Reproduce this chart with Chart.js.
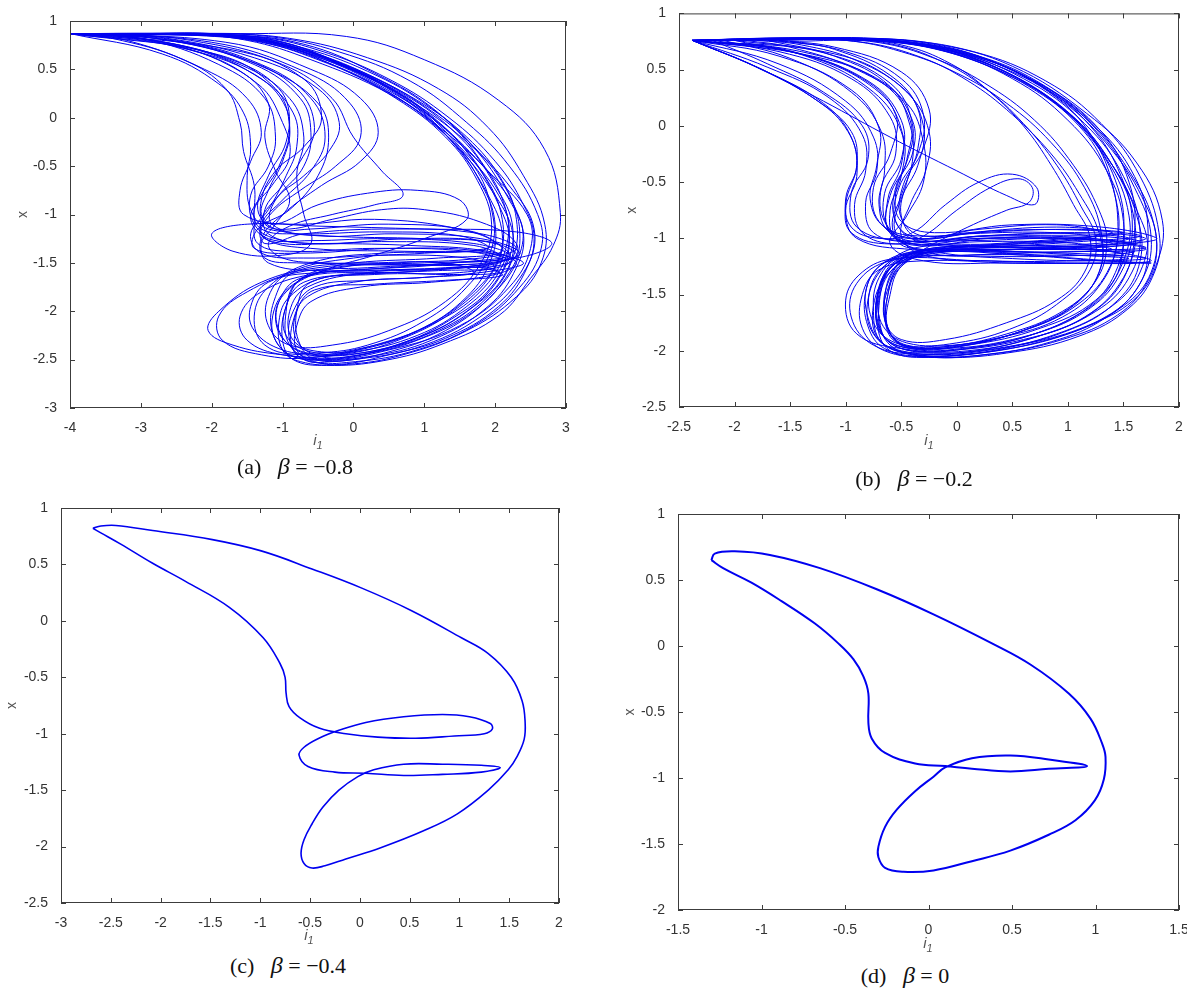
<!DOCTYPE html>
<html>
<head>
<meta charset="utf-8">
<script src="https://cdn.jsdelivr.net/npm/chart.js@4.4.1/dist/chart.umd.min.js"></script>
<style>
html, body { margin: 0; padding: 0; background: #fff; overflow: hidden; }
#page { position: relative; width: 1187px; height: 990px; }
canvas { position: absolute; }
.cap { position: absolute; font-family: 'Liberation Serif', 'Times New Roman', serif; font-size: 22px; color: #111; white-space: nowrap; transform: translate(-50%, -50%); }
.cap i { font-size: 24px; }
.ax { position: absolute; font-family: 'Liberation Sans', Arial, sans-serif; font-style: italic; font-size: 15px; color: #555; transform: translate(-50%, -50%); line-height: 1; }
.ax sub { font-size: 11px; }
</style>
</head>
<body>
<div id="page">
  <canvas id="chartA" width="570" height="446" style="left:11px;top:6px"></canvas>
  <canvas id="chartB" width="574" height="452" style="left:620px;top:0px"></canvas>
  <canvas id="chartC" width="574" height="454" style="left:0px;top:493px"></canvas>
  <canvas id="chartD" width="576" height="458" style="left:618px;top:499px"></canvas>
  <div class="ax" style="left:318px;top:441px">i<sub>1</sub></div>
  <div class="ax" style="left:929px;top:441px">i<sub>1</sub></div>
  <div class="ax" style="left:309px;top:936px">i<sub>1</sub></div>
  <div class="ax" style="left:928px;top:944px">i<sub>1</sub></div>
  <div class="cap" style="left:295px;top:466px">(a)&nbsp;&nbsp;&nbsp;<i>β</i>&nbsp;=&nbsp;−0.8</div>
  <div class="cap" style="left:914px;top:478px">(b)&nbsp;&nbsp;&nbsp;<i>β</i>&nbsp;=&nbsp;−0.2</div>
  <div class="cap" style="left:288px;top:965px">(c)&nbsp;&nbsp;&nbsp;<i>β</i>&nbsp;=&nbsp;−0.4</div>
  <div class="cap" style="left:905px;top:975px">(d)&nbsp;&nbsp;&nbsp;<i>β</i>&nbsp;=&nbsp;0</div>
</div>
<script>
// tick values of each panel
const xTicksA = [-4, -3, -2, -1, 0, 1, 2, 3];
const yTicksA = [-3, -2.5, -2, -1.5, -1, -0.5, 0, 0.5, 1];
const xTicksB = [-2.5, -2, -1.5, -1, -0.5, 0, 0.5, 1, 1.5, 2];
const yTicksB = [-2.5, -2, -1.5, -1, -0.5, 0, 0.5, 1];
const xTicksC = [-3, -2.5, -2, -1.5, -1, -0.5, 0, 0.5, 1, 1.5, 2];
const yTicksC = [-2.5, -2, -1.5, -1, -0.5, 0, 0.5, 1];
const xTicksD = [-1.5, -1, -0.5, 0, 0.5, 1, 1.5];
const yTicksD = [-2, -1.5, -1, -0.5, 0, 0.5, 1];

// (a) beta = -0.8, loops of the chaotic orbit [i1, x]
const loopsA = [
  [[-4,0.87],[-3,0.87],[-1.6,0.87],[-0.1,0.84],[1.0,0.6],[2.05,0.18],[2.7,-0.33],[2.92,-0.98],[2.82,-1.32],[2.5,-1.66],[2.06,-2.04],[1.25,-2.34],[0.43,-2.51],[-0.38,-2.56],[-0.85,-2.5],[-1.0,-2.3],[-0.95,-1.95],[-0.7,-1.65],[0.2,-1.58],[1.4,-1.55],[2.2,-1.45],[2.0,-1.3],[1.0,-1.25],[-0.4,-1.22],[-1.1,-1.15],[-1.35,-0.95],[-1.2,-0.6],[-0.95,-0.25],[-0.95,0.1],[-1.4,0.45],[-2.4,0.72],[-3.4,0.84],[-4,0.87]],
  [[-4,0.87],[-2.8,0.86],[-1.8,0.84],[-0.9,0.72],[0.0,0.5],[0.9,0.18],[1.6,-0.2],[2.1,-0.65],[2.3,-1.05],[2.25,-1.45],[1.9,-1.85],[1.2,-2.2],[0.3,-2.42],[-0.4,-2.5],[-0.9,-2.45],[-1.15,-2.2],[-1.1,-1.85],[-0.85,-1.6],[0.0,-1.5],[1.2,-1.45],[2.1,-1.38],[1.7,-1.18],[0.5,-1.1],[-0.6,-1.15],[-1.2,-1.15],[-1.45,-0.95],[-1.5,-0.6],[-1.45,-0.3],[-1.55,0.05],[-1.9,0.35],[-2.7,0.66],[-4,0.87]],
  [[-3.8,0.87],[-3,0.87],[-2,0.87],[-1.2,0.8],[-0.3,0.6],[0.7,0.25],[1.5,-0.2],[2.0,-0.7],[2.25,-1.15],[2.1,-1.6],[1.6,-2.0],[0.8,-2.3],[-0.2,-2.48],[-1.0,-2.45],[-1.7,-2.35],[-2.05,-2.2],[-1.9,-2.0],[-1.3,-1.7],[-0.5,-1.55],[0.6,-1.5],[1.8,-1.45],[2.3,-1.35],[1.8,-1.2],[0.6,-1.15],[-0.7,-1.2],[-1.25,-1.3],[-1.3,-1.1],[-1.0,-0.85],[-0.6,-0.55],[-0.4,-0.2],[-0.6,0.2],[-1.3,0.55],[-2.5,0.8],[-3.8,0.87]],
  [[-4,0.87],[-2.5,0.86],[-1.5,0.82],[-0.6,0.65],[0.4,0.35],[1.2,-0.05],[1.9,-0.55],[2.45,-1.0],[2.5,-1.35],[2.2,-1.75],[1.5,-2.15],[0.5,-2.4],[-0.5,-2.5],[-0.75,-2.35],[-0.8,-2.0],[-0.6,-1.7],[0.3,-1.62],[1.5,-1.6],[2.2,-1.5],[1.8,-1.38],[0.6,-1.35],[-0.8,-1.4],[-1.4,-1.35],[-1.35,-1.15],[-0.9,-0.95],[-0.5,-0.6],[-0.35,-0.2],[-0.5,0.15],[-1.2,0.5],[-2.4,0.78],[-4,0.87]],
  [[-4,0.87],[-3.2,0.86],[-2.2,0.85],[-1.3,0.78],[-0.4,0.58],[0.6,0.22],[1.4,-0.25],[1.85,-0.75],[2.0,-1.1],[1.95,-1.45],[1.6,-1.85],[0.9,-2.2],[0.0,-2.4],[-0.7,-2.45],[-1.25,-2.35],[-1.4,-2.05],[-1.2,-1.75],[-0.6,-1.5],[0.4,-1.4],[1.6,-1.38],[2.0,-1.3],[1.5,-1.15],[0.3,-1.05],[-0.9,-1.1],[-1.55,-1.0],[-1.6,-0.75],[-1.45,-0.45],[-1.3,-0.15],[-1.5,0.2],[-2.1,0.5],[-3.2,0.8],[-4,0.87]],
  [[-4,0.87],[-2.6,0.87],[-1.7,0.85],[-0.8,0.74],[0.2,0.48],[1.1,0.1],[1.75,-0.35],[2.2,-0.85],[2.4,-1.2],[2.3,-1.55],[1.9,-1.95],[1.1,-2.3],[0.2,-2.47],[-0.6,-2.5],[-1.0,-2.4],[-1.15,-2.1],[-0.9,-1.75],[-0.2,-1.55],[1.0,-1.5],[2.3,-1.45],[2.8,-1.3],[2.3,-1.18],[1.0,-1.15],[-0.5,-1.12],[-1.5,-1.1],[-2.0,-1.2],[-1.7,-1.38],[-1.0,-1.42],[-0.6,-1.3],[-0.7,-1.0],[-0.8,-0.6],[-0.7,-0.2],[-0.9,0.2],[-1.6,0.55],[-2.8,0.8],[-4,0.87]],
  [[-3.9,0.87],[-3,0.86],[-1.9,0.86],[-1.0,0.78],[0.0,0.5],[0.85,0.15],[1.5,-0.3],[2.05,-0.8],[2.2,-1.2],[2.05,-1.6],[1.6,-1.95],[0.9,-2.25],[0.0,-2.42],[-0.6,-2.42],[-0.95,-2.25],[-0.95,-1.95],[-0.7,-1.7],[0.1,-1.62],[1.2,-1.58],[2.0,-1.55],[1.6,-1.45],[0.5,-1.42],[-0.7,-1.45],[-1.3,-1.4],[-1.45,-1.2],[-1.2,-0.95],[-0.95,-0.6],[-0.8,-0.3],[-0.85,0.05],[-1.3,0.4],[-2.2,0.7],[-3.4,0.85],[-3.9,0.87]],
  [[-4,0.87],[-2.9,0.87],[-1.8,0.86],[-0.7,0.76],[0.3,0.46],[1.2,0.05],[1.8,-0.45],[2.15,-0.95],[2.15,-1.35],[1.85,-1.75],[1.2,-2.1],[0.3,-2.35],[-0.6,-2.48],[-1.3,-2.45],[-1.85,-2.3],[-1.9,-2.05],[-1.5,-1.8],[-0.8,-1.6],[0.2,-1.55],[1.4,-1.5],[2.1,-1.45],[1.7,-1.32],[0.4,-1.28],[-0.6,-1.3],[-1.2,-1.2],[-1.25,-0.95],[-1.0,-0.7],[-0.75,-0.45],[-0.55,-0.1],[-0.8,0.3],[-1.6,0.62],[-3.0,0.84],[-4,0.87]],
  [[-4,0.87],[-3.5,0.87],[-2.4,0.86],[-1.5,0.8],[-0.6,0.6],[0.5,0.25],[1.3,-0.15],[1.95,-0.6],[2.35,-1.05],[2.35,-1.4],[2.0,-1.8],[1.3,-2.2],[0.4,-2.44],[-0.3,-2.52],[-0.7,-2.5],[-0.9,-2.3],[-0.85,-2.0],[-0.55,-1.75],[0.2,-1.68],[1.0,-1.65],[1.7,-1.6],[1.3,-1.5],[0.2,-1.5],[-0.8,-1.5],[-1.25,-1.45],[-1.3,-1.25],[-1.0,-1.0],[-0.45,-0.7],[0.1,-0.45],[0.35,-0.15],[0.1,0.2],[-0.6,0.5],[-1.8,0.78],[-4,0.87]],
  [[-4,0.87],[-3.1,0.86],[-2.1,0.86],[-1.1,0.8],[-0.2,0.56],[0.75,0.2],[1.6,-0.25],[2.25,-0.75],[2.55,-1.15],[2.45,-1.55],[2.05,-1.95],[1.3,-2.28],[0.5,-2.45],[-0.2,-2.55],[-0.75,-2.52],[-1.0,-2.4],[-1.05,-2.1],[-0.9,-1.85],[-0.4,-1.65],[0.6,-1.6],[1.8,-1.52],[2.3,-1.42],[1.9,-1.28],[0.8,-1.25],[-0.4,-1.3],[-1.1,-1.25],[-1.4,-1.1],[-1.45,-0.8],[-1.2,-0.5],[-1.1,-0.2],[-1.25,0.2],[-1.9,0.55],[-3.0,0.82],[-4,0.87]],
  [[-3.7,0.87],[-2.7,0.86],[-1.4,0.84],[-0.5,0.7],[0.5,0.4],[1.35,0.0],[2.0,-0.45],[2.4,-0.9],[2.55,-1.25],[2.4,-1.6],[1.9,-2.0],[1.0,-2.35],[0.0,-2.5],[-0.55,-2.5],[-0.9,-2.35],[-0.95,-2.0],[-0.8,-1.7],[-0.3,-1.55],[0.8,-1.52],[1.9,-1.5],[2.35,-1.4],[1.8,-1.25],[0.6,-1.2],[-0.5,-1.22],[-1.15,-1.1],[-1.1,-0.85],[-0.7,-0.6],[-0.35,-0.35],[-0.2,-0.05],[-0.5,0.3],[-1.4,0.62],[-2.8,0.84],[-3.7,0.87]],
  [[-4,0.87],[-3.3,0.87],[-2.3,0.86],[-1.4,0.8],[-0.5,0.6],[0.4,0.3],[1.1,-0.05],[1.7,-0.5],[1.95,-0.95],[1.95,-1.35],[1.6,-1.75],[1.0,-2.1],[0.2,-2.35],[-0.5,-2.43],[-1.0,-2.4],[-1.4,-2.2],[-1.45,-1.95],[-1.2,-1.7],[-0.5,-1.6],[0.6,-1.58],[1.6,-1.55],[2.1,-1.48],[1.6,-1.38],[0.3,-1.35],[-0.9,-1.38],[-1.35,-1.3],[-1.4,-1.05],[-1.4,-0.7],[-1.55,-0.35],[-1.6,-0.05],[-1.8,0.3],[-2.4,0.6],[-3.4,0.82],[-4,0.87]],
  [[-4,0.87],[-2.4,0.87],[-1.2,0.84],[-0.2,0.68],[0.8,0.38],[1.6,-0.05],[2.2,-0.5],[2.6,-1.0],[2.65,-1.35],[2.35,-1.75],[1.7,-2.15],[0.8,-2.42],[-0.1,-2.53],[-0.6,-2.52],[-0.85,-2.4],[-0.85,-2.1],[-0.65,-1.85],[0.0,-1.7],[1.0,-1.65],[2.0,-1.58],[2.4,-1.5],[1.9,-1.4],[0.7,-1.38],[-0.6,-1.35],[-1.25,-1.25],[-1.3,-1.05],[-1.05,-0.8],[-0.7,-0.5],[-0.6,-0.15],[-0.75,0.2],[-1.4,0.55],[-2.6,0.8],[-4,0.87]],
  [[-4,0.87],[-3.0,0.87],[-2.0,0.86],[-1.2,0.79],[-0.3,0.55],[0.6,0.2],[1.3,-0.2],[1.75,-0.65],[1.95,-1.1],[1.8,-1.5],[1.3,-1.9],[0.5,-2.2],[-0.3,-2.35],[-0.9,-2.35],[-1.2,-2.15],[-1.2,-1.85],[-0.9,-1.6],[0.0,-1.45],[1.0,-1.4],[1.9,-1.35],[1.5,-1.22],[0.4,-1.18],[-0.8,-1.2],[-1.3,-1.15],[-1.4,-0.95],[-1.15,-0.7],[-0.9,-0.4],[-1.0,-0.05],[-1.35,0.35],[-2.3,0.7],[-4,0.87]],
  [[-4,0.87],[-2.9,0.86],[-1.9,0.85],[-1.0,0.76],[-0.1,0.52],[0.8,0.16],[1.45,-0.3],[1.9,-0.8],[2.1,-1.2],[2.0,-1.55],[1.5,-1.95],[0.7,-2.28],[-0.2,-2.45],[-0.75,-2.42],[-1.05,-2.2],[-1.05,-1.9],[-0.75,-1.66],[0.3,-1.6],[1.3,-1.62],[2.05,-1.6],[1.7,-1.52],[0.6,-1.55],[-0.5,-1.58],[-1.2,-1.5],[-1.3,-1.3],[-1.1,-1.1],[-0.9,-0.85],[-1.1,-0.55],[-1.25,-0.2],[-1.2,0.15],[-1.6,0.48],[-2.7,0.78],[-4,0.87]],
  [[-4,0.87],[-3.2,0.87],[-2.0,0.87],[-0.9,0.82],[0.2,0.62],[1.2,0.3],[1.9,-0.1],[2.4,-0.6],[2.7,-1.1],[2.65,-1.5],[2.3,-1.85],[1.6,-2.2],[0.7,-2.45],[-0.1,-2.55],[-0.55,-2.52],[-0.8,-2.4],[-0.8,-2.15],[-0.6,-1.9],[0.1,-1.75],[1.1,-1.7],[2.0,-1.62],[2.3,-1.5],[1.9,-1.38],[0.8,-1.32],[-0.3,-1.3],[-1.0,-1.3],[-1.3,-1.2],[-1.15,-0.98],[-0.75,-0.75],[-0.25,-0.5],[0.1,-0.2],[-0.05,0.15],[-0.7,0.48],[-2.0,0.78],[-4,0.87]],
  [[-4,0.87],[-2.7,0.86],[-1.6,0.83],[-0.6,0.67],[0.3,0.4],[1.05,0.05],[1.65,-0.4],[2.05,-0.9],[2.2,-1.3],[2.0,-1.7],[1.45,-2.05],[0.6,-2.35],[-0.3,-2.46],[-1.0,-2.45],[-1.5,-2.3],[-1.6,-2.05],[-1.3,-1.8],[-0.6,-1.62],[0.5,-1.55],[1.7,-1.48],[2.2,-1.42],[1.7,-1.3],[0.5,-1.25],[-0.6,-1.27],[-1.2,-1.25],[-1.45,-1.05],[-1.3,-0.8],[-1.05,-0.5],[-0.9,-0.1],[-1.05,0.3],[-1.8,0.62],[-3.2,0.84],[-4,0.87]],
  [[-3.6,0.87],[-2.6,0.86],[-1.5,0.82],[-0.7,0.7],[0.2,0.45],[1.0,0.12],[1.7,-0.3],[2.2,-0.8],[2.35,-1.25],[2.2,-1.6],[1.7,-2.0],[0.9,-2.3],[0.1,-2.45],[-0.45,-2.47],[-0.8,-2.3],[-0.8,-2.0],[-0.55,-1.78],[0.3,-1.72],[1.3,-1.68],[2.1,-1.63],[1.8,-1.55],[0.7,-1.52],[-0.4,-1.5],[-1.0,-1.45],[-1.2,-1.3],[-0.9,-1.12],[-0.3,-1.0],[0.3,-0.9],[0.7,-0.8],[0.4,-0.55],[0.0,-0.2],[-0.3,0.2],[-1.0,0.55],[-2.3,0.8],[-3.6,0.87]],
  [[-4,0.87],[-3.0,0.86],[-2.0,0.85],[-1.1,0.78],[-0.2,0.55],[0.7,0.2],[1.4,-0.25],[1.95,-0.75],[2.25,-1.2],[2.15,-1.6],[1.7,-1.95],[1.0,-2.25],[0.2,-2.42],[-0.5,-2.45],[-0.95,-2.32],[-1.1,-2.05],[-0.95,-1.8],[-0.5,-1.6],[0.3,-1.42],[1.0,-1.25],[1.6,-1.05],[1.5,-0.85],[0.9,-0.75],[0.2,-0.78],[-0.5,-0.9],[-1.1,-1.1],[-1.3,-1.0],[-1.2,-0.75],[-1.0,-0.45],[-0.9,-0.1],[-1.1,0.3],[-1.9,0.65],[-4,0.87]],
  [[-4,0.87],[-3.3,0.86],[-2.2,0.86],[-1.3,0.8],[-0.4,0.6],[0.5,0.28],[1.3,-0.12],[1.85,-0.6],[2.1,-1.05],[2.05,-1.45],[1.7,-1.8],[1.05,-2.15],[0.2,-2.38],[-0.45,-2.42],[-0.85,-2.3],[-0.9,-2.0],[-0.65,-1.75],[0.2,-1.6],[1.3,-1.55],[2.2,-1.5],[2.3,-1.3],[1.8,-1.08],[1.0,-0.95],[0.4,-0.95],[-0.3,-1.05],[-0.9,-1.15],[-1.25,-1.1],[-1.3,-0.85],[-1.1,-0.55],[-0.7,-0.3],[-0.45,0.0],[-0.7,0.4],[-1.7,0.7],[-4,0.87]]
];

// (b) beta = -0.2
const loopsB = [
  [[-2.38,0.76],[-1.6,0.78],[-0.9,0.78],[-0.2,0.73],[0.5,0.53],[1.17,0.11],[1.62,-0.33],[1.85,-0.84],[1.79,-1.25],[1.59,-1.55],[1.17,-1.78],[0.66,-1.93],[0.0,-2.04],[-0.4,-2.03],[-0.7,-1.9],[-0.75,-1.6],[-0.6,-1.3],[-0.3,-1.15],[0.5,-1.1],[1.4,-1.05],[1.7,-1.0],[1.2,-0.95],[0.2,-0.98],[-0.6,-1.05],[-0.95,-0.95],[-1.0,-0.7],[-0.9,-0.35],[-0.95,-0.05],[-1.25,0.22],[-1.75,0.5],[-2.38,0.76]],
  [[-2.38,0.76],[-1.7,0.77],[-0.9,0.77],[-0.3,0.72],[0.35,0.52],[0.95,0.15],[1.35,-0.3],[1.55,-0.8],[1.5,-1.2],[1.25,-1.55],[0.75,-1.8],[0.1,-1.95],[-0.4,-1.97],[-0.6,-1.85],[-0.65,-1.55],[-0.55,-1.25],[-0.3,-1.1],[0.4,-1.07],[1.2,-1.05],[1.55,-1.0],[1.1,-0.96],[0.2,-0.98],[-0.35,-1.02],[-0.55,-0.85],[-0.55,-0.55],[-0.4,-0.25],[-0.4,0.05],[-0.65,0.38],[-1.3,0.62],[-2.38,0.76]],
  [[-2.2,0.76],[-1.5,0.77],[-0.7,0.76],[0.0,0.66],[0.7,0.4],[1.25,0.0],[1.6,-0.45],[1.72,-0.9],[1.65,-1.3],[1.4,-1.6],[0.9,-1.85],[0.25,-2.0],[-0.35,-2.03],[-0.75,-1.95],[-0.95,-1.7],[-0.9,-1.4],[-0.6,-1.2],[0.1,-1.15],[1.0,-1.12],[1.7,-1.1],[1.3,-1.02],[0.3,-1.0],[-0.5,-1.02],[-0.9,-0.9],[-0.95,-0.6],[-0.8,-0.3],[-0.85,0.0],[-1.2,0.3],[-1.7,0.55],[-2.2,0.76]],
  [[-1.9,0.76],[-1.2,0.77],[-0.5,0.75],[0.2,0.62],[0.8,0.35],[1.3,-0.05],[1.55,-0.5],[1.6,-0.95],[1.5,-1.35],[1.15,-1.7],[0.6,-1.9],[-0.1,-2.0],[-0.5,-1.98],[-0.7,-1.8],[-0.7,-1.45],[-0.55,-1.2],[-0.2,-1.12],[0.6,-1.15],[1.3,-1.2],[1.75,-1.22],[1.3,-1.22],[0.4,-1.22],[-0.3,-1.2],[-0.6,-1.05],[-0.45,-0.8],[-0.3,-0.5],[-0.3,-0.15],[-0.45,0.2],[-0.9,0.5],[-1.5,0.7],[-1.9,0.76]],
  [[-2.38,0.76],[-1.6,0.77],[-0.8,0.76],[-0.1,0.68],[0.6,0.42],[1.15,0.02],[1.5,-0.45],[1.65,-0.95],[1.55,-1.35],[1.25,-1.65],[0.7,-1.88],[0.0,-2.02],[-0.5,-2.0],[-0.75,-1.85],[-0.8,-1.55],[-0.65,-1.25],[-0.35,-1.08],[0.3,-1.05],[1.0,-1.0],[1.5,-0.95],[1.0,-0.92],[0.2,-0.95],[-0.4,-1.0],[-0.7,-0.85],[-0.75,-0.55],[-0.6,-0.25],[-0.55,0.1],[-0.85,0.42],[-1.5,0.66],[-2.38,0.76]],
  [[-1.5,0.75],[-0.9,0.76],[-0.3,0.72],[0.3,0.56],[0.9,0.25],[1.25,-0.15],[1.42,-0.6],[1.45,-1.0],[1.3,-1.4],[0.95,-1.7],[0.4,-1.88],[-0.2,-1.96],[-0.55,-1.92],[-0.65,-1.7],[-0.62,-1.4],[-0.45,-1.18],[0.0,-1.1],[0.8,-1.08],[1.4,-1.05],[1.0,-1.0],[0.1,-1.02],[-0.35,-1.0],[-0.5,-0.8],[-0.45,-0.5],[-0.35,-0.2],[-0.35,0.15],[-0.6,0.45],[-1.1,0.68],[-1.5,0.75]],
  [[-2.38,0.76],[-1.6,0.78],[-0.9,0.77],[-0.25,0.7],[0.4,0.48],[1.0,0.12],[1.4,-0.35],[1.6,-0.85],[1.55,-1.25],[1.3,-1.6],[0.8,-1.85],[0.1,-2.0],[-0.5,-1.98],[-0.9,-1.85],[-1.0,-1.55],[-0.85,-1.3],[-0.55,-1.18],[0.2,-1.2],[1.0,-1.22],[1.6,-1.22],[1.1,-1.18],[0.3,-1.12],[-0.4,-1.1],[-0.9,-1.0],[-1.0,-0.75],[-0.9,-0.45],[-0.95,-0.1],[-1.2,0.2],[-1.75,0.5],[-2.38,0.76]],
  [[-2.0,0.76],[-1.3,0.77],[-0.6,0.76],[0.1,0.64],[0.75,0.36],[1.2,0.0],[1.48,-0.45],[1.58,-0.9],[1.48,-1.3],[1.2,-1.62],[0.7,-1.85],[0.05,-1.98],[-0.45,-1.97],[-0.62,-1.8],[-0.6,-1.5],[-0.5,-1.25],[-0.25,-1.12],[0.5,-1.1],[1.3,-1.08],[1.65,-1.03],[1.2,-0.98],[0.3,-1.0],[-0.3,-1.06],[-0.6,-0.95],[-0.62,-0.65],[-0.5,-0.35],[-0.5,-0.05],[-0.75,0.3],[-1.3,0.6],[-2.0,0.76]],
  [[-2.38,0.76],[-1.75,0.5],[-1.2,0.22],[-0.6,-0.1],[0.0,-0.4],[0.45,-0.62],[0.7,-0.7],[0.72,-0.55],[0.5,-0.43],[0.2,-0.5],[-0.1,-0.7],[-0.4,-0.95],[-0.7,-1.0],[-0.95,-0.9],[-1.0,-0.65],[-0.9,-0.35],[-0.98,-0.05],[-1.25,0.22],[-1.8,0.52],[-2.38,0.76]],
  [[-1.7,0.76],[-1.0,0.77],[-0.4,0.74],[0.25,0.6],[0.85,0.3],[1.3,-0.08],[1.6,-0.55],[1.75,-1.0],[1.65,-1.4],[1.35,-1.7],[0.85,-1.92],[0.2,-2.04],[-0.3,-2.05],[-0.6,-1.95],[-0.7,-1.7],[-0.68,-1.4],[-0.5,-1.2],[0.1,-1.15],[0.9,-1.15],[1.5,-1.15],[1.1,-1.08],[0.2,-1.07],[-0.45,-1.08],[-0.58,-0.9],[-0.5,-0.62],[-0.4,-0.32],[-0.42,0.0],[-0.6,0.35],[-1.1,0.62],[-1.7,0.76]],
  [[-2.38,0.76],[-1.7,0.77],[-1.0,0.77],[-0.4,0.73],[0.2,0.58],[0.75,0.3],[1.2,-0.1],[1.45,-0.55],[1.5,-1.0],[1.4,-1.4],[1.05,-1.7],[0.5,-1.9],[-0.15,-1.98],[-0.55,-1.93],[-0.75,-1.75],[-0.78,-1.45],[-0.62,-1.22],[-0.3,-1.1],[0.4,-1.05],[1.1,-1.0],[1.4,-0.95],[0.9,-0.9],[0.1,-0.95],[-0.45,-1.0],[-0.65,-0.85],[-0.68,-0.55],[-0.55,-0.25],[-0.6,0.08],[-0.95,0.42],[-1.6,0.66],[-2.38,0.76]],
  [[-2.1,0.76],[-1.4,0.77],[-0.7,0.77],[-0.05,0.68],[0.6,0.45],[1.15,0.08],[1.55,-0.4],[1.78,-0.9],[1.75,-1.3],[1.5,-1.6],[1.0,-1.85],[0.35,-2.0],[-0.25,-2.05],[-0.65,-2.0],[-0.85,-1.8],[-0.85,-1.5],[-0.7,-1.28],[-0.3,-1.2],[0.5,-1.22],[1.3,-1.22],[1.75,-1.2],[1.4,-1.12],[0.6,-1.08],[-0.2,-1.05],[-0.6,-0.95],[-0.7,-0.7],[-0.65,-0.4],[-0.68,-0.05],[-0.95,0.3],[-1.5,0.6],[-2.1,0.76]],
  [[-2.38,0.76],[-1.5,0.78],[-0.6,0.77],[0.15,0.66],[0.8,0.4],[1.3,0.02],[1.65,-0.45],[1.82,-0.95],[1.78,-1.3],[1.55,-1.62],[1.1,-1.87],[0.45,-2.02],[-0.2,-2.06],[-0.6,-2.0],[-0.72,-1.75],[-0.7,-1.45],[-0.55,-1.22],[-0.2,-1.1],[0.6,-1.08],[1.5,-1.05],[1.8,-1.0],[1.3,-0.9],[0.5,-0.88],[-0.2,-0.95],[-0.5,-0.85],[-0.55,-0.6],[-0.45,-0.3],[-0.42,0.05],[-0.7,0.4],[-1.4,0.66],[-2.38,0.76]],
  [[-1.8,0.76],[-1.1,0.77],[-0.5,0.74],[0.1,0.6],[0.65,0.35],[1.1,0.0],[1.35,-0.4],[1.45,-0.85],[1.38,-1.25],[1.1,-1.58],[0.6,-1.82],[0.0,-1.95],[-0.45,-1.95],[-0.62,-1.8],[-0.62,-1.5],[-0.52,-1.25],[-0.2,-1.12],[0.5,-1.12],[1.1,-1.15],[1.55,-1.18],[1.1,-1.2],[0.3,-1.2],[-0.3,-1.15],[-0.5,-0.98],[-0.42,-0.7],[-0.28,-0.4],[-0.25,-0.05],[-0.45,0.3],[-0.9,0.58],[-1.4,0.72],[-1.8,0.76]],
  [[-2.38,0.76],[-1.8,0.77],[-1.2,0.78],[-0.6,0.75],[0.0,0.64],[0.55,0.42],[1.05,0.08],[1.4,-0.35],[1.62,-0.8],[1.65,-1.2],[1.45,-1.55],[1.0,-1.82],[0.35,-1.98],[-0.3,-2.02],[-0.65,-1.95],[-0.8,-1.7],[-0.8,-1.4],[-0.62,-1.2],[-0.25,-1.12],[0.6,-1.1],[1.45,-1.1],[1.7,-1.08],[1.2,-1.0],[0.3,-0.98],[-0.4,-1.03],[-0.75,-0.95],[-0.82,-0.68],[-0.72,-0.4],[-0.75,-0.1],[-1.0,0.22],[-1.6,0.55],[-2.38,0.76]],
  [[-1.6,0.76],[-1.0,0.77],[-0.5,0.72],[-0.05,0.55],[0.3,0.3],[0.6,0.0],[0.85,-0.35],[1.05,-0.7],[1.2,-1.0],[1.15,-1.3],[0.9,-1.55],[0.45,-1.75],[-0.1,-1.9],[-0.5,-1.9],[-0.65,-1.72],[-0.62,-1.45],[-0.48,-1.22],[-0.15,-1.1],[0.5,-1.05],[1.25,-1.0],[0.9,-0.95],[0.1,-0.96],[-0.35,-1.0],[-0.55,-0.85],[-0.52,-0.55],[-0.35,-0.25],[-0.3,0.1],[-0.5,0.42],[-1.0,0.66],[-1.6,0.76]],
  [[-2.38,0.76],[-1.6,0.77],[-0.9,0.75],[-0.35,0.62],[0.1,0.4],[0.5,0.1],[0.85,-0.25],[1.1,-0.6],[1.28,-0.95],[1.3,-1.25],[1.1,-1.55],[0.7,-1.78],[0.1,-1.95],[-0.4,-1.98],[-0.68,-1.85],[-0.72,-1.55],[-0.62,-1.28],[-0.35,-1.12],[0.4,-1.1],[1.1,-1.08],[1.6,-1.05],[1.1,-1.0],[0.2,-1.0],[-0.4,-1.05],[-0.62,-0.9],[-0.65,-0.6],[-0.5,-0.3],[-0.5,0.05],[-0.8,0.4],[-1.5,0.66],[-2.38,0.76]],
  [[-2.0,0.76],[-1.3,0.77],[-0.7,0.74],[-0.2,0.6],[0.25,0.38],[0.7,0.05],[1.05,-0.35],[1.28,-0.75],[1.35,-1.05],[1.25,-1.38],[0.95,-1.65],[0.45,-1.85],[-0.15,-1.97],[-0.55,-1.95],[-0.7,-1.78],[-0.7,-1.5],[-0.58,-1.25],[-0.3,-1.13],[0.4,-1.12],[1.0,-1.12],[1.4,-1.1],[1.0,-1.04],[0.2,-1.03],[-0.4,-1.06],[-0.62,-0.92],[-0.6,-0.62],[-0.45,-0.32],[-0.4,0.02],[-0.6,0.38],[-1.2,0.65],[-2.0,0.76]],
  [[-2.38,0.76],[-1.6,0.77],[-1.0,0.76],[-0.5,0.66],[0.0,0.47],[0.45,0.2],[0.85,-0.15],[1.15,-0.55],[1.3,-0.95],[1.28,-1.3],[1.05,-1.6],[0.6,-1.82],[0.0,-1.96],[-0.45,-1.96],[-0.62,-1.8],[-0.62,-1.5],[-0.5,-1.25],[-0.2,-1.12],[0.5,-1.1],[1.3,-1.1],[1.6,-1.12],[1.2,-1.15],[0.3,-1.16],[-0.3,-1.12],[-0.55,-0.95],[-0.5,-0.65],[-0.35,-0.35],[-0.3,0.0],[-0.5,0.35],[-1.1,0.64],[-2.38,0.76]],
  [[-1.7,0.76],[-1.1,0.77],[-0.6,0.73],[-0.15,0.58],[0.25,0.34],[0.6,0.02],[0.9,-0.35],[1.12,-0.72],[1.25,-1.0],[1.2,-1.28],[0.95,-1.55],[0.55,-1.78],[0.0,-1.93],[-0.45,-1.93],[-0.68,-1.75],[-0.68,-1.45],[-0.55,-1.22],[-0.25,-1.1],[0.4,-1.06],[1.0,-1.02],[1.3,-0.95],[0.9,-0.88],[0.2,-0.92],[-0.3,-0.98],[-0.5,-0.82],[-0.48,-0.52],[-0.3,-0.2],[-0.25,0.15],[-0.5,0.48],[-1.1,0.7],[-1.7,0.76]],
  [[-2.38,0.76],[-1.6,0.77],[-0.8,0.76],[-0.1,0.66],[0.5,0.42],[1.0,0.05],[1.35,-0.4],[1.5,-0.85],[1.45,-1.25],[1.2,-1.6],[0.7,-1.85],[0.1,-1.98],[-0.4,-2.0],[-0.65,-1.88],[-0.7,-1.6],[-0.6,-1.3],[-0.3,-1.1],[0.1,-0.9],[0.45,-0.75],[0.65,-0.68],[0.68,-0.55],[0.55,-0.47],[0.3,-0.55],[0.0,-0.75],[-0.3,-0.98],[-0.55,-1.05],[-0.85,-0.95],[-0.92,-0.7],[-0.82,-0.4],[-0.85,-0.08],[-1.15,0.25],[-1.7,0.52],[-2.38,0.76]],
  [[-2.2,0.76],[-1.5,0.77],[-0.8,0.77],[-0.2,0.7],[0.4,0.5],[0.95,0.16],[1.35,-0.28],[1.62,-0.75],[1.72,-1.1],[1.62,-1.45],[1.3,-1.72],[0.75,-1.92],[0.1,-2.03],[-0.4,-2.03],[-0.68,-1.92],[-0.75,-1.65],[-0.7,-1.35],[-0.5,-1.16],[-0.1,-1.1],[0.6,-1.12],[1.4,-1.15],[1.7,-1.18],[1.3,-1.2],[0.5,-1.18],[-0.2,-1.12],[-0.55,-1.0],[-0.6,-0.75],[-0.5,-0.45],[-0.48,-0.1],[-0.7,0.3],[-1.4,0.64],[-2.2,0.76]],
  [[-2.38,0.76],[-1.7,0.78],[-1.0,0.78],[-0.3,0.74],[0.35,0.56],[0.95,0.22],[1.4,-0.22],[1.7,-0.7],[1.8,-1.05],[1.72,-1.38],[1.45,-1.68],[0.95,-1.9],[0.3,-2.03],[-0.3,-2.05],[-0.65,-1.98],[-0.8,-1.78],[-0.82,-1.48],[-0.7,-1.25],[-0.4,-1.12],[0.3,-1.08],[1.1,-1.03],[1.65,-0.98],[1.2,-0.93],[0.4,-0.93],[-0.3,-0.98],[-0.65,-0.9],[-0.78,-0.65],[-0.72,-0.35],[-0.7,-0.02],[-0.95,0.32],[-1.6,0.62],[-2.38,0.76]]
];

// (c) beta = -0.4, closed cycle
const cycleC = [[-2.68,0.82],[-2.6,0.84],[-2.45,0.845],[-2.08,0.8],[-1.48,0.72],[-0.99,0.62],[-0.48,0.46],[0.02,0.29],[0.52,0.09],[1.02,-0.15],[1.29,-0.29],[1.52,-0.5],[1.63,-0.71],[1.66,-0.9],[1.65,-1.05],[1.58,-1.2],[1.49,-1.32],[1.29,-1.5],[0.98,-1.71],[0.64,-1.86],[0.21,-2.01],[-0.14,-2.11],[-0.35,-2.17],[-0.48,-2.19],[-0.56,-2.15],[-0.59,-2.06],[-0.56,-1.94],[-0.48,-1.8],[-0.37,-1.65],[-0.21,-1.5],[-0.02,-1.38],[0.14,-1.32],[0.44,-1.27],[0.83,-1.27],[1.22,-1.28],[1.41,-1.3],[1.22,-1.34],[0.83,-1.36],[0.44,-1.37],[0.06,-1.35],[-0.25,-1.34],[-0.52,-1.29],[-0.61,-1.19],[-0.56,-1.12],[-0.41,-1.04],[-0.21,-0.97],[0.06,-0.9],[0.44,-0.85],[0.83,-0.83],[1.1,-0.85],[1.31,-0.91],[1.33,-0.96],[1.25,-1.0],[0.95,-1.02],[0.56,-1.04],[0.18,-1.03],[-0.14,-1.0],[-0.41,-0.95],[-0.6,-0.86],[-0.71,-0.76],[-0.74,-0.64],[-0.75,-0.5],[-0.8,-0.38],[-0.97,-0.15],[-1.31,0.12],[-1.75,0.35],[-2.08,0.51],[-2.4,0.68],[-2.6,0.78],[-2.68,0.82]];

// (d) beta = 0, closed cycle
const cycleD = [[-1.3,0.65],[-1.28,0.7],[-1.16,0.717],[-0.95,0.69],[-0.65,0.59],[-0.31,0.43],[0.03,0.24],[0.38,0.02],[0.61,-0.14],[0.84,-0.36],[0.97,-0.55],[1.04,-0.74],[1.06,-0.84],[1.05,-1.01],[0.996,-1.17],[0.88,-1.32],[0.72,-1.43],[0.49,-1.55],[0.26,-1.63],[0.03,-1.7],[-0.15,-1.71],[-0.26,-1.68],[-0.3,-1.6],[-0.3,-1.52],[-0.26,-1.37],[-0.19,-1.24],[-0.08,-1.1],[0.03,-0.99],[0.1,-0.92],[0.26,-0.85],[0.49,-0.83],[0.72,-0.86],[0.95,-0.91],[0.72,-0.93],[0.49,-0.95],[0.26,-0.93],[0.1,-0.91],[-0.08,-0.89],[-0.26,-0.81],[-0.34,-0.7],[-0.36,-0.58],[-0.36,-0.36],[-0.39,-0.23],[-0.45,-0.1],[-0.54,0.02],[-0.68,0.17],[-0.88,0.34],[-1.06,0.48],[-1.23,0.59],[-1.3,0.65]];

const tickFont = { family: "'Liberation Sans', Arial, sans-serif", size: 14 };
const titleFont = { family: "'Liberation Sans', Arial, sans-serif", size: 14 };

// box round the plot with inward tick marks on all four sides, like matlab
const boxTicks = {
  id: 'boxTicks',
  afterDatasetsDraw(chart) {
    const { ctx, chartArea: a, scales: { x, y } } = chart;
    ctx.save();
    ctx.strokeStyle = '#3c3c3c';
    ctx.lineWidth = 1;
    ctx.beginPath();
    x.ticks.forEach(t => {
      const px = Math.round(x.getPixelForValue(t.value)) + 0.5;
      ctx.moveTo(px, a.bottom); ctx.lineTo(px, a.bottom - 5);
      ctx.moveTo(px, a.top); ctx.lineTo(px, a.top + 5);
    });
    y.ticks.forEach(t => {
      const py = Math.round(y.getPixelForValue(t.value)) + 0.5;
      ctx.moveTo(a.left, py); ctx.lineTo(a.left + 5, py);
      ctx.moveTo(a.right, py); ctx.lineTo(a.right - 5, py);
    });
    ctx.stroke();
    ctx.strokeRect(a.left + 0.5, a.top + 0.5, a.right - a.left - 1, a.bottom - a.top - 1);
    ctx.restore();
  }
};

function makePanel(id, paths, xTicks, yTicks, lw, yAxisW, xAxisH, padTop) {
  const datasets = paths.map(p => ({
    data: p.map(q => ({ x: q[0], y: q[1] })),
    showLine: true,
    borderColor: '#0000f0',
    borderWidth: lw,
    pointRadius: 0,
    tension: 0.4,
    fill: false
  }));
  new Chart(document.getElementById(id), {
    type: 'scatter',
    data: { datasets: datasets },
    plugins: [boxTicks],
    options: {
      responsive: false,
      animation: false,
      devicePixelRatio: 1,
      events: [],
      layout: { autoPadding: false, padding: { top: padTop, right: 15, left: 0, bottom: 0 } },
      plugins: { legend: { display: false }, tooltip: { enabled: false } },
      scales: {
        x: {
          type: 'linear',
          min: xTicks[0],
          max: xTicks[xTicks.length - 1],
          grid: { display: false },
          border: { display: false },
          afterBuildTicks: s => { s.ticks = xTicks.map(v => ({ value: v })); },
          afterFit: s => { s.height = xAxisH; },
          ticks: { padding: 4, color: '#333', font: tickFont, maxRotation: 0, autoSkip: false, callback: v => String(v) },
          title: { display: false }
        },
        y: {
          type: 'linear',
          min: yTicks[0],
          max: yTicks[yTicks.length - 1],
          grid: { display: false },
          border: { display: false },
          afterBuildTicks: s => { s.ticks = yTicks.map(v => ({ value: v })); },
          afterFit: s => { s.width = yAxisW; },
          ticks: { padding: 5, color: '#333', font: tickFont, autoSkip: false, callback: v => String(v) },
          title: { display: true, text: 'x', color: '#555', font: titleFont, padding: { top: 4, bottom: 0 } }
        }
      }
    }
  });
}

makePanel('chartA', loopsA, xTicksA, yTicksA, 1, 59, 44, 15);
makePanel('chartB', loopsB, xTicksB, yTicksB, 1, 59, 45, 13);
makePanel('chartC', [cycleC], xTicksC, yTicksC, 1.6, 61, 44, 15);
makePanel('chartD', [cycleD], xTicksD, yTicksD, 2, 60, 47, 15);
</script>
</body>
</html>
